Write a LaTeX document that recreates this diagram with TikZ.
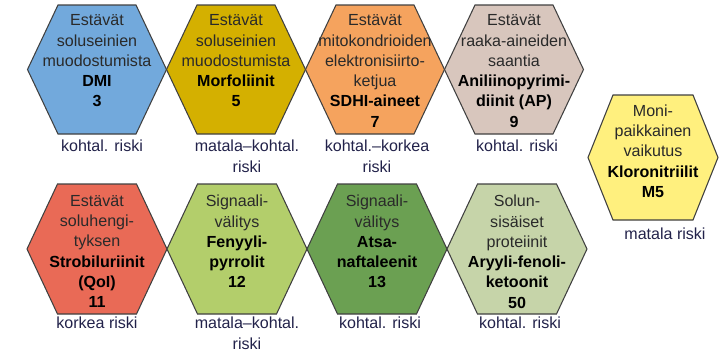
\documentclass[tikz,border=0pt]{standalone}
\usepackage{fontspec}
\setmainfont{Liberation Sans}
\usepackage{tikz}
\usetikzlibrary{positioning}
\definecolor{hexblue}{HTML}{72A9DC}
\definecolor{hexmustard}{HTML}{D4B000}
\definecolor{hexorange}{HTML}{F5A35E}
\definecolor{hextaupe}{HTML}{D8C6BD}
\definecolor{hexred}{HTML}{E96A56}
\definecolor{hexlime}{HTML}{B3CE6B}
\definecolor{hexgreen}{HTML}{6BA052}
\definecolor{hexsage}{HTML}{C6D4A9}
\definecolor{hexyellow}{HTML}{FFF07E}
\definecolor{bodytext}{HTML}{2A2A2A}
\definecolor{risktext}{HTML}{22224A}

\begin{document}
\begin{tikzpicture}[
  x=0.03cm, y=-0.03cm,
  hexline/.style={draw=black!75, line width=0.9pt, line join=miter},
  pics/hexa/.style n args={4}{code={
    \draw[hexline, fill=#1] (-#2,0) -- (-#3,-#4) -- (#3,-#4) -- (#2,0)
      -- (#3,#4) -- (-#3,#4) -- cycle;
  }},
  hextext/.style={anchor=north, inner sep=0pt, align=center, text=bodytext,
                  font=\fontsize{13.7}{17.3}\selectfont},
  risk/.style={anchor=north, inner sep=0pt, align=center, text=risktext,
               font=\fontsize{13.7}{17.2}\selectfont},
]
  \useasboundingbox (0,0) rectangle (720,352);

  % upper row
  \pic at (97,69.5)  {hexa={hexblue}{69.5}{39}{64.5}};
  \pic at (236,69.5) {hexa={hexmustard}{69.5}{39}{64.5}};
  \pic at (375,69.5) {hexa={hexorange}{69.5}{39}{64.5}};
  \pic at (514,69.5) {hexa={hextaupe}{69.5}{39}{64.5}};
  % lower row
  \pic at (97,249)  {hexa={hexred}{70}{39.5}{65}};
  \pic at (237,249) {hexa={hexlime}{70}{39.5}{65}};
  \pic at (377,249) {hexa={hexgreen}{70}{39.5}{65}};
  \pic at (517,249) {hexa={hexsage}{70}{39.5}{65}};
  % multi-site
  \pic at (653,157.5) {hexa={hexyellow}{65}{40}{62.5}};

  \node[hextext] (dmi) at (97,14.5)
    {Estävät\\soluseinien\\muodostumista\\\textbf{\color{black}DMI}\\\textbf{\color{black}3}};
  \node[hextext] (morf) at (236,14.5)
    {Estävät\\soluseinien\\muodostumista\\\textbf{\color{black}Morfoliinit}\\\textbf{\color{black}5}};
  \node[hextext] (sdhi) at (375,14.5)
    {Estävät\\mitokondrioiden\\elektronisiirto-\\ketjua\\\textbf{\color{black}SDHI-aineet}\\\textbf{\color{black}7}};
  \node[hextext] (ap) at (514,14.5)
    {Estävät\\raaka-aineiden\\saantia\\\textbf{\color{black}Aniliinopyrimi-}\\\textbf{\color{black}diinit (AP)}\\\textbf{\color{black}9}};
  \node[hextext] (qoi) at (97,195)
    {Estävät\\soluhengi-\\tyksen\\\textbf{\color{black}Strobiluriinit}\\\textbf{\color{black}(QoI)}\\\textbf{\color{black}11}};
  \node[hextext] (fen) at (237,195)
    {Signaali-\\välitys\\\textbf{\color{black}Fenyyli-}\\\textbf{\color{black}pyrrolit}\\\textbf{\color{black}12}};
  \node[hextext] (ats) at (377,195)
    {Signaali-\\välitys\\\textbf{\color{black}Atsa-}\\\textbf{\color{black}naftaleenit}\\\textbf{\color{black}13}};
  \node[hextext] (ary) at (517,195)
    {Solun-\\sisäiset\\proteiinit\\\textbf{\color{black}Aryyli-fenoli-}\\\textbf{\color{black}ketoonit}\\\textbf{\color{black}50}};
  \node[hextext] (klo) at (653,104.5)
    {Moni-\\paikkainen\\vaikutus\\\textbf{\color{black}Kloronitriilit}\\\textbf{\color{black}M5}};

  % risk labels
  \node[risk] (r1) at (102,140) {kohtal. riski};
  \node[risk] (r2) at (247,140) {matala–kohtal.\\riski};
  \node[risk] (r3) at (377,140) {kohtal.–korkea\\riski};
  \node[risk] (r4) at (517,140) {kohtal. riski};
  \node[risk] (r5) at (97,317)  {korkea riski};
  \node[risk] (r6) at (247,317) {matala–kohtal.\\riski};
  \node[risk] (r7) at (380,317) {kohtal. riski};
  \node[risk] (r8) at (520,317) {kohtal. riski};
  \node[risk] (r9) at (665,228) {matala riski};
\end{tikzpicture}
\end{document}
